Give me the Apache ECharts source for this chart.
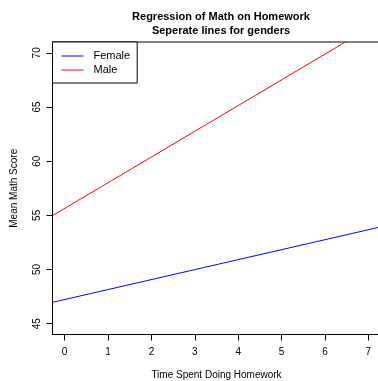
<!DOCTYPE html>
<html>
<head>
<meta charset="utf-8">
<script src="https://cdn.jsdelivr.net/npm/echarts@6/dist/echarts.min.js"></script>
<style>
  html, body { margin: 0; padding: 0; background: #fff; }
  #chart { width: 378px; height: 381px; }
</style>
</head>
<body>
<div id="chart"></div>
<script>
// Plot limits (data range padded by 4% on each side)
const xLimits = [-0.28, 7.28];
const yLimits = [44, 71];

// Tick positions and labels
const xTicks = [0, 1, 2, 3, 4, 5, 6, 7];
const yTicks = [45, 50, 55, 60, 65, 70];

// Fitted regression lines, evaluated at the two ends of the x range
const lineX = [-0.28, 7.28];
const female = [46.97, 53.93];
const male = [54.97, 72.92];

const seriesNames = ['Female', 'Male'];
const titleLines = ['Regression of Math on Homework', 'Seperate lines for genders'];

const font = '"Liberation Sans", Arial, Helvetica, sans-serif';

function pairs(xs, ys) { return xs.map((x, i) => [x, ys[i]]); }

const chart = echarts.init(document.getElementById('chart'), null, { renderer: 'canvas' });

chart.setOption({
  animation: false,
  backgroundColor: '#ffffff',
  title: {
    text: titleLines.join('\n'),
    left: 216,
    top: 5,
    textAlign: 'center',
    textStyle: { fontFamily: font, fontSize: 11, fontWeight: 'bold', color: '#000', lineHeight: 14 }
  },
  legend: {
    orient: 'vertical',
    left: 52.5,
    top: 42,
    padding: [7, 7, 6, 9],
    itemGap: 0,
    itemWidth: 22,
    itemHeight: 1,
    icon: 'rect',
    borderColor: '#000',
    borderWidth: 1,
    borderRadius: 0,
    backgroundColor: '#fff',
    textStyle: { fontFamily: font, fontSize: 11, color: '#000', lineHeight: 14, padding: [0, 0, 0, 5] },
    data: seriesNames
  },
  grid: {
    left: 52.5,
    top: 42,
    width: 328,
    height: 292.5,
    show: true,
    borderColor: '#000',
    borderWidth: 1,
    backgroundColor: 'transparent',
    containLabel: false,
    outerBoundsMode: 'none'
  },
  xAxis: {
    type: 'value',
    min: xLimits[0],
    max: xLimits[1],
    name: 'Time Spent Doing Homework',
    nameLocation: 'middle',
    nameGap: 36,
    nameTextStyle: { fontFamily: font, fontSize: 10, color: '#000' },
    axisLine: { show: true, onZero: false, lineStyle: { color: '#000', width: 1 } },
    axisTick: { show: true, length: 6, inside: false, customValues: xTicks, lineStyle: { color: '#000' } },
    axisLabel: { show: true, margin: 13, customValues: xTicks, fontFamily: font, fontSize: 10, color: '#000' },
    splitLine: { show: false }
  },
  yAxis: {
    type: 'value',
    min: yLimits[0],
    max: yLimits[1],
    name: 'Mean Math Score',
    nameLocation: 'middle',
    nameRotate: 90,
    nameGap: 33,
    nameTextStyle: { fontFamily: font, fontSize: 10, color: '#000' },
    axisLine: { show: true, onZero: false, lineStyle: { color: '#000', width: 1 } },
    axisTick: { show: true, length: 6, inside: false, customValues: yTicks, lineStyle: { color: '#000' } },
    axisLabel: { show: true, rotate: 90, margin: 10, customValues: yTicks, fontFamily: font, fontSize: 10, color: '#000' },
    splitLine: { show: false }
  },
  series: [
    {
      name: seriesNames[0],
      type: 'line',
      data: pairs(lineX, female),
      showSymbol: false,
      clip: true,
      lineStyle: { color: '#0000ff', width: 1 },
      itemStyle: { color: '#0000ff' }
    },
    {
      name: seriesNames[1],
      type: 'line',
      data: pairs(lineX, male),
      showSymbol: false,
      clip: true,
      lineStyle: { color: '#ff0000', width: 1 },
      itemStyle: { color: '#ff0000' }
    }
  ]
});
</script>
</body>
</html>
